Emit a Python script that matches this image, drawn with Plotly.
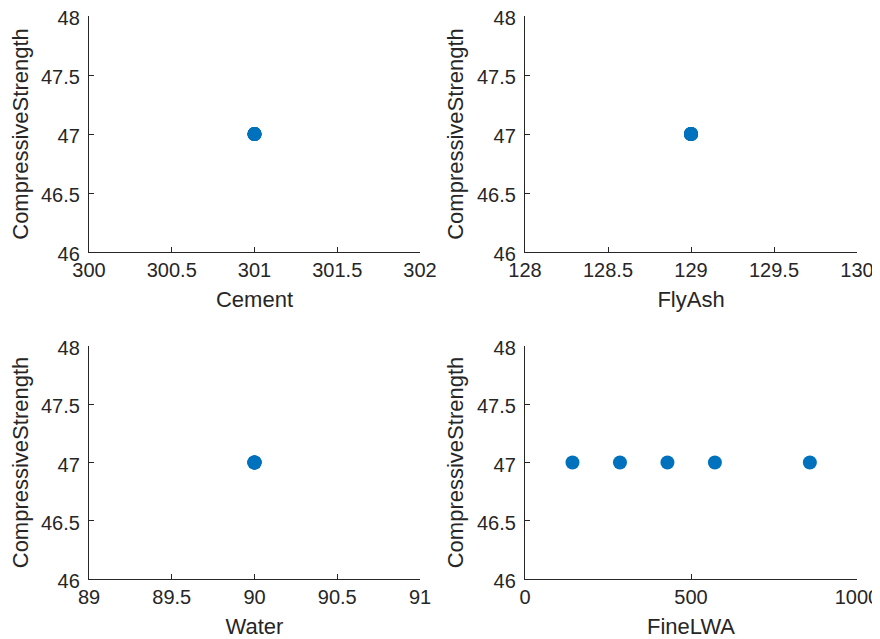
import plotly.graph_objects as go

# Data
cement = [301, 301, 301, 301, 301]
flyash = [129, 129, 129, 129, 129]
water = [90, 90, 90, 90, 90]
finelwa = [143, 286, 429, 572, 858]
strength = [47, 47, 47, 47, 47]

panels = [
    ("Cement", cement, [300, 302], [300, 300.5, 301, 301.5, 302], ["300", "300.5", "301", "301.5", "302"]),
    ("FlyAsh", flyash, [128, 130], [128, 128.5, 129, 129.5, 130], ["128", "128.5", "129", "129.5", "130"]),
    ("Water", water, [89, 91], [89, 89.5, 90, 90.5, 91], ["89", "89.5", "90", "90.5", "91"]),
    ("FineLWA", finelwa, [0, 1000], [0, 500, 1000], ["0", "500", "1000"]),
]
y_range = [46, 48]
y_ticks = [46, 46.5, 47, 47.5, 48]
y_ticktext = ["46", "46.5", "47", "47.5", "48"]
y_title = "CompressiveStrength"

# page body has an 8px margin; size the figure to fill the rest of the window
OFF = 8
W, H = 880 - OFF, 639 - OFF


def px_x(a, b):
    return [(a - OFF) / W, (b - OFF) / W]


def px_y(top, bottom):
    return [1 - (bottom - OFF) / H, 1 - (top - OFF) / H]


xdoms = [px_x(89, 420), px_x(525, 857)]
ydoms = [px_y(16, 252), px_y(346, 579)]

fig = go.Figure()
axcol = "#262626"
font = "Liberation Sans, Arial, sans-serif"

for i, (name, xs, xr, xt, xtt) in enumerate(panels):
    r, c = divmod(i, 2)
    n = i + 1
    xa = "x" if n == 1 else f"x{n}"
    ya = "y" if n == 1 else f"y{n}"
    fig.add_trace(go.Scatter(
        x=xs, y=strength, mode="markers", xaxis=xa, yaxis=ya,
        marker=dict(color="#0072BD", size=14, line=dict(width=0)),
        showlegend=False, hoverinfo="x+y"))
    common = dict(showline=True, linecolor=axcol, linewidth=1.3, mirror=False,
                  showgrid=False, zeroline=False, ticks="inside", ticklen=5,
                  tickcolor=axcol, tickwidth=1.3, automargin=False,
                  ticklabeloverflow="allow",
                  tickfont=dict(family=font, size=20, color=axcol))
    fig.layout[f"xaxis{'' if n == 1 else n}"] = dict(
        common, domain=xdoms[c], range=xr, tickmode="array", tickvals=xt, ticktext=xtt,
        anchor=ya, title=dict(text=name, font=dict(family=font, size=22, color=axcol), standoff=11))
    fig.layout[f"yaxis{'' if n == 1 else n}"] = dict(
        common, domain=ydoms[r], range=y_range, tickmode="array", tickvals=y_ticks,
        ticktext=y_ticktext, anchor=xa, ticklabelstandoff=4, ticklabelshift=2,
        title=dict(text=y_title, font=dict(family=font, size=22, color=axcol), standoff=7))

fig.update_layout(width=W, height=H, margin=dict(l=0, r=0, t=0, b=0, autoexpand=False),
                  plot_bgcolor="white", paper_bgcolor="white")
fig.write_html("out.html")
